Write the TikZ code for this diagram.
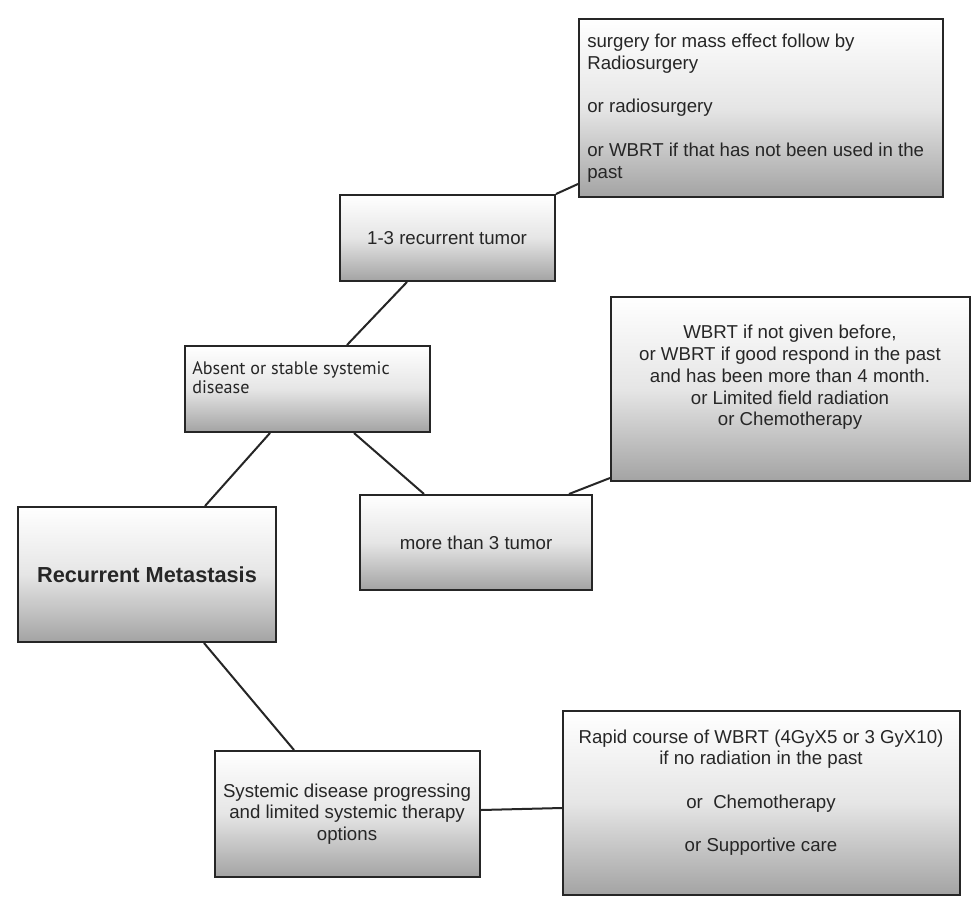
\documentclass[tikz,border=0pt]{standalone}
\usepackage{fontspec}
\setmainfont{Liberation Sans}
\newfontfamily\myriad{PT Sans}
\usetikzlibrary{calc}
\tikzset{
  box/.style={draw=black!85, line width=1.5pt, rectangle, inner sep=0pt,
    top color=white, bottom color=black!36, middle color=black!10},
  txt/.style={inner sep=0pt, font=\fontsize{14}{16.3}\selectfont, text=black!85},
  link/.style={draw=black!85, line width=1.5pt}
}
\begin{document}
\begin{tikzpicture}[x=0.75pt, y=-0.75pt]
\useasboundingbox[fill=white] (0,0) rectangle (980,913);
% boxes
\node[box, minimum width=364*0.75pt, minimum height=178*0.75pt] (boxA) at (761,108) {};
\node[box, minimum width=215*0.75pt, minimum height=86*0.75pt] (boxB) at (447.5,238) {};
\node[box, minimum width=245*0.75pt, minimum height=86*0.75pt] (boxC) at (307.5,389) {};
\node[box, minimum width=258*0.75pt, minimum height=135*0.75pt] (boxD) at (147,574.5) {};
\node[box, minimum width=232*0.75pt, minimum height=95*0.75pt] (boxE) at (476,542.5) {};
\node[box, minimum width=359*0.75pt, minimum height=184*0.75pt] (boxF) at (790.5,389) {};
\node[box, minimum width=265*0.75pt, minimum height=126*0.75pt] (boxG) at (347.5,814) {};
\node[box, minimum width=397*0.75pt, minimum height=184*0.75pt] (boxH) at (761.5,803) {};
% texts
\node[txt, anchor=west, align=left] (tA) at (587,108) {surgery for mass effect follow by\\Radiosurgery\\[16.3pt]or radiosurgery\\[16.3pt]or WBRT if that has not been used in the\\past};
\node[txt] (tB) at (447,238) {1-3 recurrent tumor};
\node[txt, anchor=west, align=left, font=\myriad\fontsize{13.6}{14.5}\selectfont] (tC) at (192,377.5) {Absent or stable systemic\\disease};
\node[txt, font=\bfseries\fontsize{16.3}{19}\selectfont] (tD) at (147,575) {Recurrent Metastasis};
\node[txt] (tE) at (476,543) {more than 3 tumor};
\node[txt, align=center] (tF) at (790,377.5) {WBRT if not given before,\\or WBRT if good respond in the past\\and has been more than 4 month.\\or Limited field radiation\\or Chemotherapy};
\node[txt, align=center] (tG) at (347,814) {Systemic disease progressing\\and limited systemic therapy\\options};
\node[txt, align=center] (tH) at (761,792.5) {Rapid course of WBRT (4GyX5 or 3 GyX10)\\if no radiation in the past\\[16.3pt]or\ \ Chemotherapy\\[16.3pt]or Supportive care};
% connectors
\draw[link] (boxB.north east) -- ($(boxA.south west)+(0,-14)$);
\draw[link] ($(boxC.north west)+(163,0)$) -- ($(boxB.south west)+(68,0)$);
\draw[link] ($(boxD.north west)+(188,0)$) -- ($(boxC.south west)+(86,0)$);
\draw[link] ($(boxC.south west)+(170,0)$) -- ($(boxE.north west)+(65,0)$);
\draw[link] ($(boxE.north west)+(210,0)$) -- ($(boxF.south west)+(0,-4)$);
\draw[link] ($(boxD.south west)+(187,0)$) -- ($(boxG.north west)+(80,0)$);
\draw[link] ($(boxG.east)+(0,-4)$) -- ($(boxH.west)+(0,5)$);
\end{tikzpicture}
\end{document}
